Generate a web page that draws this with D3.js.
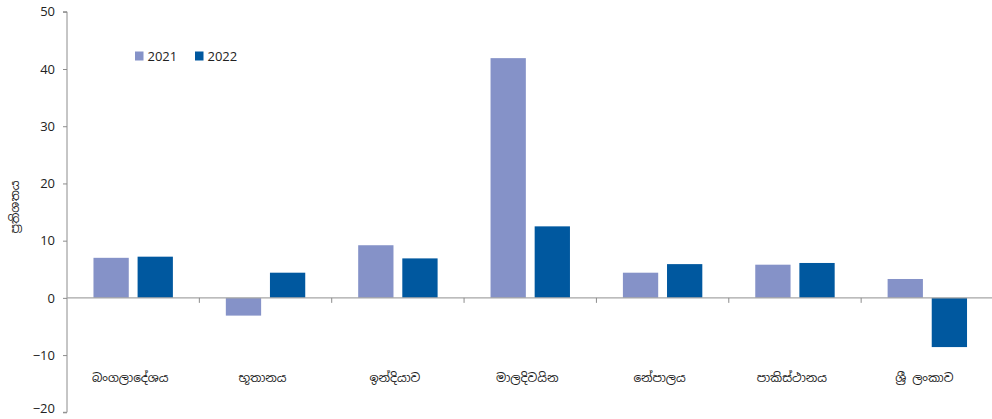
<!DOCTYPE html>
<html>
<head>
<meta charset="utf-8">
<script src="https://cdn.jsdelivr.net/npm/d3@7"></script>
<style>
  html, body { margin: 0; padding: 0; background: #fff; }
  svg { display: block; }
  text { font-family: "Open Sans", "Liberation Sans", sans-serif; fill: #222; }
  .sin { font-family: "Noto Sans Sinhala", "Noto Serif Sinhala", "Noto Sans", sans-serif; }
</style>
</head>
<body>
<svg id="chart" width="992" height="419"></svg>
<script>
const categories = ["බංගලාදේශය", "භූතානය", "ඉන්දියාව", "මාලදිවයින", "නේපාලය", "පාකිස්ථානය", "ශ්‍රී ලංකාව"];
const seriesNames = ["2021", "2022"];
const values2021 = [7.0, -3.1, 9.2, 41.9, 4.4, 5.8, 3.3];
const values2022 = [7.2, 4.4, 6.9, 12.5, 5.9, 6.1, -8.6];
const yTicks = [50, 40, 30, 20, 10, 0, -10, -20];
const yLabel = "ප්‍රතිශතය";
const colors = ["#8592C8", "#00589F"];

const svg = d3.select("#chart");
const mLeft = 67, mRight = 993.5, mTop = 11.8, mBottom = 412.3;

const y = d3.scaleLinear().domain([-20, 50]).range([mBottom, mTop]);
const x0 = d3.scaleBand().domain(categories).range([mLeft, mRight]).padding(0);
const x1 = d3.scaleBand().domain(seriesNames)
  .range([x0.bandwidth() * 0.2, x0.bandwidth() * 0.8]).paddingInner(0.2).paddingOuter(0);

const rows = categories.map((c, i) => ({ c, vals: [values2021[i], values2022[i]] }));

// bars
const g = svg.append("g");
rows.forEach(r => {
  r.vals.forEach((v, j) => {
    g.append("rect")
      .attr("x", x0(r.c) + x1(seriesNames[j]))
      .attr("width", x1.bandwidth())
      .attr("y", y(Math.max(0, v)))
      .attr("height", Math.abs(y(v) - y(0)))
      .attr("fill", colors[j]);
  });
});

// y axis
const yAxis = d3.axisLeft(y).tickValues(yTicks).tickSize(4).tickPadding(8).tickFormat(d3.format("d"));
const ya = svg.append("g").attr("transform", `translate(${mLeft},0)`).call(yAxis);
ya.select(".domain").attr("stroke", "#8c8c8c").attr("d", `M-4,${mTop}H0V${mBottom}H-4`);
ya.selectAll(".tick line").attr("stroke", "#8c8c8c");
ya.selectAll(".tick text").attr("font-size", 13).attr("fill", "#222")
  .attr("font-family", "'Open Sans', 'Liberation Sans', sans-serif");
// keep the bottom label inside the picture
ya.selectAll(".tick").filter(d => d === -20).select("text").attr("dy", "0.05em");

// zero line with category separators
svg.append("line").attr("x1", mLeft).attr("x2", mRight)
  .attr("y1", y(0)).attr("y2", y(0)).attr("stroke", "#a6a6a6").attr("stroke-width", 1.2);
categories.slice(1).forEach(c => {
  svg.append("line").attr("x1", x0(c)).attr("x2", x0(c))
    .attr("y1", y(0)).attr("y2", y(0) + 5).attr("stroke", "#8c8c8c");
});

// category labels
categories.forEach(c => {
  svg.append("text").attr("class", "sin")
    .attr("x", x0(c) + x0.bandwidth() / 2 - 3)
    .attr("y", 382)
    .attr("text-anchor", "middle")
    .attr("font-size", 12)
    .text(c);
});

// y label
svg.append("text").attr("class", "sin")
  .attr("transform", `translate(19,207) rotate(-90)`)
  .attr("text-anchor", "middle")
  .attr("font-size", 12)
  .text(yLabel);

// legend
const legendX = [135, 195];
seriesNames.forEach((s, j) => {
  svg.append("rect").attr("x", legendX[j]).attr("y", 51.5)
    .attr("width", 8.5).attr("height", 9).attr("fill", colors[j]);
  svg.append("text").attr("x", legendX[j] + 12.5).attr("y", 60.5)
    .attr("font-size", 13).text(s);
});
</script>
</body>
</html>
